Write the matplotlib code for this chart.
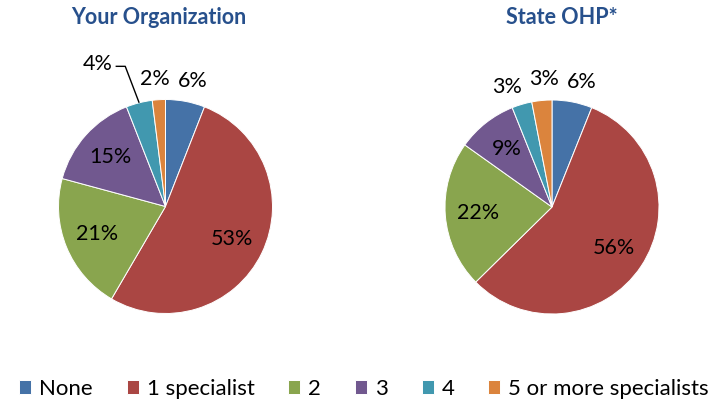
import matplotlib
matplotlib.use("Agg")
import matplotlib.pyplot as plt
import numpy as np

plt.rcParams['font.family'] = ['Lato', 'DejaVu Sans']

categories = ['None', '1 specialist', '2', '3', '4', '5 or more specialists']
org_values = [6, 53, 21, 15, 4, 2]
state_values = [6, 56, 22, 9, 3, 3]
titles = ['Your Organization', 'State OHP*']
colors = ['#4572A7', '#AA4643', '#89A54E', '#71588F', '#4198AF', '#DB843D']

W, H = 716, 404
fig = plt.figure(figsize=(W / 100, H / 100), dpi=100)

R = 107  # pie radius in pixels
half = 1.5 * R


def pie_axes(cx, cy):
    # cx, cy in pixels from the top-left corner
    return fig.add_axes([(cx - half) / W, (H - cy - half) / H,
                         2 * half / W, 2 * half / H])


def spread(angles, min_gap=17, n_iter=20):
    # push crowded outside labels apart (angles in degrees, clockwise from top)
    a = list(angles)
    order = np.argsort(a)
    for _ in range(n_iter):
        for j in range(len(order) - 1):
            i0, i1 = order[j], order[j + 1]
            gap = a[i1] - a[i0]
            if gap < min_gap:
                d = (min_gap - gap) / 2
                a[i0] -= d
                a[i1] += d
    return a


def draw_pie(ax, values, leader=None):
    wedges, _ = ax.pie(values, colors=colors, startangle=90, counterclock=False,
                       wedgeprops=dict(edgecolor='white', linewidth=0.7))
    ax.set_xlim(-1.5, 1.5)
    ax.set_ylim(-1.5, 1.5)
    ax.set_aspect('equal')
    ax.axis('off')

    mids = [90 - (w.theta1 + w.theta2) / 2 for w in wedges]
    mids = [(m + 180) % 360 - 180 for m in mids]
    outside = [i for i, v in enumerate(values) if v < 8 and i != leader]
    moved = spread([mids[i] for i in outside])
    pos = dict(zip(outside, moved))

    for i, v in enumerate(values):
        label = f'{v}%'
        if i == leader:
            # small slice labelled further out with a leader line
            m = np.deg2rad(mids[i])
            px, py = np.sin(m), np.cos(m)
            cx, cy = px - 0.13, 1.31
            ax.plot([cx - 0.09, cx, px], [cy, cy, py], color='black', lw=1,
                    solid_capstyle='butt')
            ax.text(cx - 0.12, cy + 0.02, label, ha='right', va='center',
                    fontsize=15.5)
            continue
        if i in pos:
            a = np.deg2rad(pos[i])
            r = 1.2
        else:
            a = np.deg2rad(mids[i])
            r = 0.69
        ax.text(r * np.sin(a), r * np.cos(a), label, ha='center', va='center',
                fontsize=15.5, color='black')
    return wedges


ax1 = pie_axes(165.5, 206.5)
wedges = draw_pie(ax1, org_values, leader=4)
ax2 = pie_axes(552, 207)
draw_pie(ax2, state_values)

fig.text(159 / W, 1 - 17 / H, titles[0], ha='center', va='center',
         fontsize=15.5, fontweight='bold', color='#27508C')
fig.text(562 / W, 1 - 17 / H, titles[1], ha='center', va='center',
         fontsize=15.5, fontweight='bold', color='#27508C')

fig.legend(wedges, categories, loc='center', bbox_to_anchor=(364 / W, 15 / H),
           ncol=6, frameon=False, fontsize=16, handlelength=0.55, handleheight=0.55,
           handletextpad=0.35, columnspacing=1.52, borderpad=0, borderaxespad=0)

fig.savefig('out.png', dpi=100, facecolor='white')
